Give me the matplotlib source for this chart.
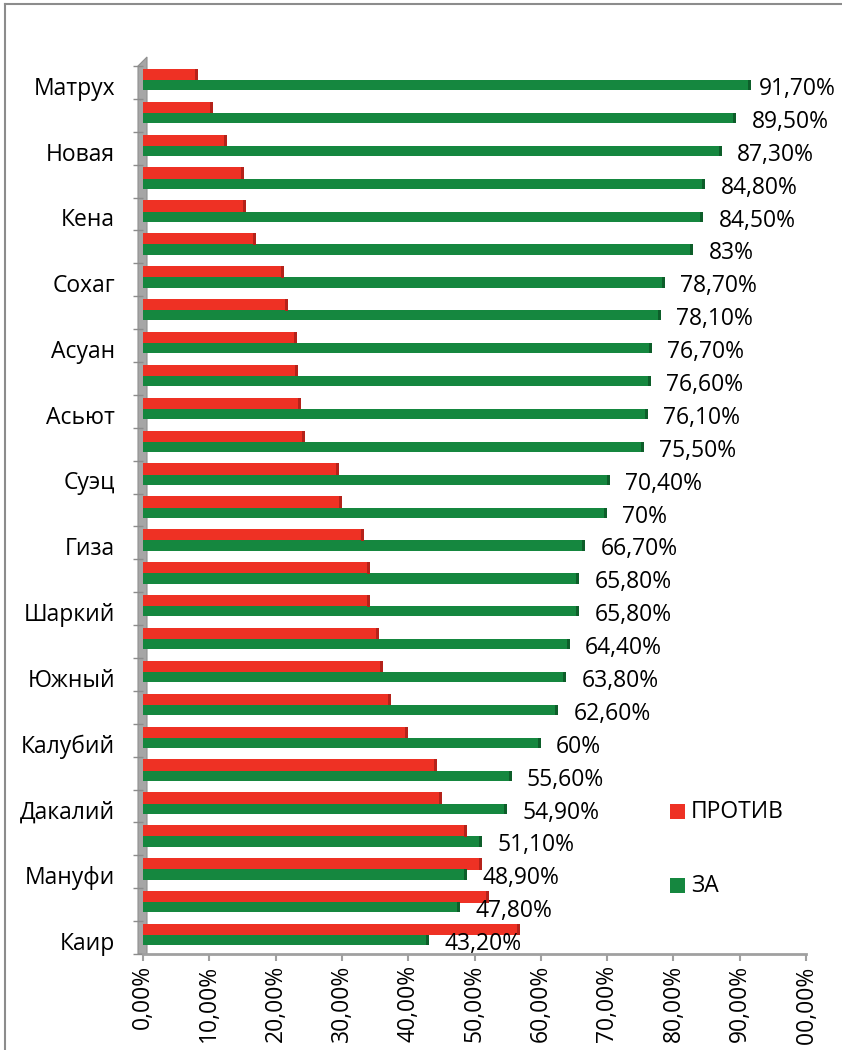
import matplotlib
matplotlib.use("Agg")
import matplotlib.pyplot as plt
from matplotlib.patches import Polygon, Rectangle
from matplotlib.lines import Line2D

# ---- data ----
categories = ["Матрух", "", "Новая", "", "Кена", "", "Сохаг", "", "Асуан", "",
              "Асьют", "", "Суэц", "", "Гиза", "", "Шаркий", "", "Южный", "",
              "Калубий", "", "Дакалий", "", "Мануфи", "", "Каир"]
za_values = [91.7, 89.5, 87.3, 84.8, 84.5, 83.0, 78.7, 78.1, 76.7, 76.6,
             76.1, 75.5, 70.4, 70.0, 66.7, 65.8, 65.8, 64.4, 63.8, 62.6,
             60.0, 55.6, 54.9, 51.1, 48.9, 47.8, 43.2]
za_labels = ["91,70%", "89,50%", "87,30%", "84,80%", "84,50%", "83%", "78,70%",
             "78,10%", "76,70%", "76,60%", "76,10%", "75,50%", "70,40%", "70%",
             "66,70%", "65,80%", "65,80%", "64,40%", "63,80%", "62,60%", "60%",
             "55,60%", "54,90%", "51,10%", "48,90%", "47,80%", "43,20%"]
protiv_values = [8.3, 10.5, 12.7, 15.2, 15.5, 17.0, 21.3, 21.9, 23.3, 23.4,
                 23.9, 24.5, 29.6, 30.0, 33.3, 34.2, 34.2, 35.6, 36.2, 37.4,
                 40.0, 44.4, 45.1, 48.9, 51.1, 52.2, 56.8]
x_ticks = [0, 10, 20, 30, 40, 50, 60, 70, 80, 90, 100]
x_tick_labels = ["0,00%", "10,00%", "20,00%", "30,00%", "40,00%", "50,00%",
                 "60,00%", "70,00%", "80,00%", "90,00%", "100,00%"]
series_names = ["ПРОТИВ", "ЗА"]

# ---- style ----
FONT = "Open Sans"
FS = 16.5
RED = "#ee3124"
RED_D = "#b5221a"
GREEN = "#15873f"
GREEN_D = "#0d5e2a"
W, H = 842, 1050

fig = plt.figure(figsize=(W / 100, H / 100), dpi=100)


def fx(px):
    return px / W


def fy(py):
    return 1 - py / H


ax = fig.add_axes([fx(143), fy(954), fx(806) - fx(143), fy(66) - fy(954)])
ax.patch.set_visible(False)

# frame around the chart
fig.add_artist(Line2D([fx(5), fx(842)], [fy(4), fy(4)], color="#8c8c8c", lw=1.5))
fig.add_artist(Line2D([fx(5), fx(5)], [fy(4), fy(1050)], color="#8c8c8c", lw=1.5))

# 3D wall on the left
wall = Polygon([(fx(138), fy(954)), (fx(138), fy(66)), (fx(147), fy(57)),
                (fx(147), fy(954))], closed=True, facecolor="#a6a6a6",
               edgecolor="#8f8f8f", lw=0.8, zorder=-1)
fig.add_artist(wall)

n = len(categories)
pos = list(range(n))
red_y = [p - 0.24 for p in pos]
green_y = [p + 0.08 for p in pos]
HR, HG = 0.35, 0.31

ax.barh(red_y, protiv_values, height=HR, color=RED, zorder=3)
ax.barh(green_y, za_values, height=HG, color=GREEN, zorder=3)
# darker end caps for the 3D look
cap = 0.45
ax.barh(red_y, [cap] * n, left=[v - cap for v in protiv_values], height=HR,
        color=RED_D, zorder=4)
ax.barh(green_y, [cap] * n, left=[v - cap for v in za_values], height=HG,
        color=GREEN_D, zorder=4)

ax.set_xlim(0, 100)
ax.set_ylim(n - 0.5, -0.5)

# y labels
ax.set_yticks([p + 0.1 for p in pos])
ax.set_yticklabels(categories, fontsize=FS, family=FONT)
ax.tick_params(axis="y", which="major", length=0, pad=20)
ax.set_yticks([p + 0.5 for p in pos[:-1]] + [-0.5, n - 0.5], minor=True)
ax.tick_params(axis="y", which="minor", length=7.5, color="#8c8c8c", width=1,
               direction="out")

# x axis
ax.set_xticks(x_ticks)
ax.set_xticklabels(x_tick_labels, rotation=90, fontsize=FS, family=FONT,
                   va="top")
ax.tick_params(axis="x", length=5, color="#a0a0a0", width=1.5, pad=3)
for s in ["top", "right", "left"]:
    ax.spines[s].set_visible(False)
ax.spines["bottom"].set_color("#a0a0a0")
ax.spines["bottom"].set_linewidth(2)

# data labels
fig.canvas.draw()
renderer = fig.canvas.get_renderer()
for p, v, lab in zip(pos, za_values, za_labels):
    t = ax.annotate(lab, xy=(v, p + 0.2), xytext=(11, 0),
                    textcoords="offset points", ha="left", va="center",
                    fontsize=FS, family=FONT, color="black", zorder=6,
                    annotation_clip=False)
    bb = t.get_window_extent(renderer)
    if bb.x1 > W - 6:
        t.set_position((11 - (bb.x1 - (W - 6)) * 0.72, 0))

# legend (manual placement)
leg_items = [(series_names[0], RED, 812), (series_names[1], GREEN, 886)]
for name, col, yc in leg_items:
    fig.add_artist(Rectangle((fx(670), fy(yc + 7)), fx(15), fy(yc - 8) - fy(yc + 7),
                             facecolor=col, edgecolor="none"))
    fig.text(fx(691), fy(yc), name, fontsize=FS, family=FONT, va="center",
             ha="left")

fig.savefig("out.png", dpi=100)
